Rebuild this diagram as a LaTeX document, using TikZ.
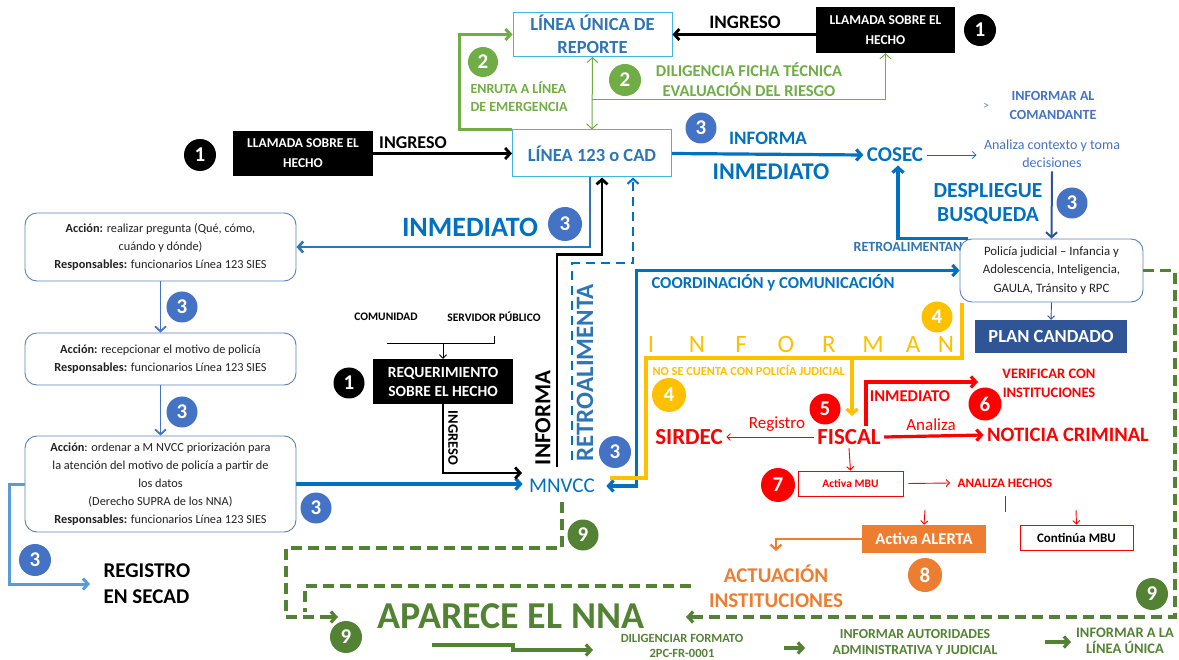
\documentclass[tikz,border=0pt]{standalone}
\usepackage{fontspec}
\setmainfont{Carlito}
\usetikzlibrary{arrows.meta,calc}
\definecolor{lublue}{HTML}{41B6E6}
\definecolor{tblue}{HTML}{2E75B6}
\definecolor{ablue}{HTML}{0070C0}
\definecolor{cblue}{HTML}{4472C4}
\definecolor{rbord}{HTML}{5B82B8}
\definecolor{gA}{HTML}{70AD47}
\definecolor{gB}{HTML}{548235}
\definecolor{yel}{HTML}{FFC000}
\definecolor{rd}{HTML}{FF0000}
\definecolor{org}{HTML}{ED7D31}
\definecolor{navy}{HTML}{2F5597}
\definecolor{lb}{HTML}{5B9BD5}
\definecolor{txt}{HTML}{222222}
\newcommand{\myfs}[2]{\fontsize{#1}{#2}\selectfont}
\begin{document}
\begin{tikzpicture}[x=1pt,y=-1pt,
  numc/.style={circle,inner sep=0pt,minimum size=31pt,text=white,font=\bfseries\myfs{21}{21}},
  tipA/.style={-{Straight Barb[length=5pt,width=11pt]}},
  tipB/.style={{Straight Barb[length=5pt,width=11pt]}-{Straight Barb[length=5pt,width=11pt]}},
  tipS/.style={-{Straight Barb[length=3.5pt,width=7pt]}},
  lubox/.style={draw=lublue,line width=1pt,fill=white,minimum width=159pt,minimum height=44pt,inner sep=0pt,align=center,text=tblue,font=\bfseries\myfs{18.5}{23}},
  blkbox/.style={fill=black,minimum width=140pt,minimum height=45pt,inner sep=0pt,align=center,text=white,font=\bfseries\myfs{13.5}{20}},
  rbox/.style={draw=rbord,line width=0.9pt,rounded corners=12pt,fill=white,minimum width=271pt,inner sep=0pt,align=center,text=txt,font=\myfs{12.3}{18}},
  rdbox/.style={draw=rd,line width=0.8pt,fill=white,inner sep=0pt,align=center,font=\bfseries\myfs{12}{14}},
  gdash/.style={draw=gB,line width=3.4pt,dash pattern=on 11pt off 6pt}
]
\useasboundingbox (0,0) rectangle (1179,660);

% ---------- top area ----------
\node[lubox] (lu) at (592.5,34.5) {LÍNEA ÚNICA DE\\REPORTE};
\node[lubox,minimum height=47pt] (c123) at (592,153.5) {LÍNEA 123 o CAD};
\node[blkbox,minimum width=139pt,minimum height=46pt] (ll1) at (885.5,30) {LLAMADA SOBRE EL\\HECHO};
\node[blkbox] (ll2) at (303,153.5) {LLAMADA SOBRE EL\\HECHO};
\node[numc,fill=black,minimum size=32pt] (n1a) at (980,30) {1};
\node[numc,fill=black,minimum size=32pt] (n1b) at (200,155) {1};

\draw[tipA,line width=2.8pt] (ll1.west |- lu.east) -- (lu.east);
\node[font=\bfseries\myfs{19}{19}] (ingT) at (745,22) {INGRESO};
\draw[tipA,line width=2.8pt] (ll2.east) -- (c123.west);
\node[font=\bfseries\myfs{18}{18}] (ingL) at (413,143) {INGRESO};

% green routes
\draw[gA,line width=3pt,tipA] (c123.north west) -- ++(-53,0) |- (lu.west);
\node[numc,fill=gA,minimum size=30pt] (n2a) at (483,62) {2};
\node[anchor=west,align=left,text=gA,font=\bfseries\myfs{14}{18}] (enruta) at (467,97) {ENRUTA A LÍNEA\\DE EMERGENCIA};
\draw[gA,line width=1pt,tipB] (lu.south) -- (c123.north);
\coordinate (gsplit) at (592,100);
\draw[gA,line width=1pt,tipA] (gsplit) -| (ll1.south);
\node[numc,fill=gA,minimum size=32pt] (n2b) at (625,80) {2};
\node[align=center,text=gA,font=\bfseries\myfs{16.5}{20}] (dilT) at (749,80) {DILIGENCIA FICHA TÉCNICA\\EVALUACIÓN DEL RIESGO};

% to COSEC
\node[text=ablue,font=\bfseries\myfs{21}{21}] (cosec) at (895,155) {COSEC};
\draw[ablue,line width=3.2pt,tipA] (c123.east) -- (cosec.west);
\node[numc,fill=cblue,minimum size=31pt] (n3a) at (701,128) {3};
\node[text=ablue,font=\bfseries\myfs{19}{19}] (infT) at (768,138) {INFORMA};
\node[text=ablue,font=\bfseries\myfs{24}{24}] (inmT) at (771,172) {INMEDIATO};
\node[text=cblue!80,font=\myfs{12}{12}] (gt) at (986,106) {>};
\node[align=center,text=cblue,font=\bfseries\myfs{14}{19}] (coman) at (1053,105) {INFORMAR AL\\COMANDANTE};
\node[align=center,text=cblue,font=\myfs{14}{18}] (anal) at (1052,154) {Analiza contexto y toma\\decisiones};
\draw[ablue,line width=0.8pt,tipS] (cosec.east) -- ([xshift=-4pt]anal.west |- cosec.east);

% Policia box
\node[text=tblue,font=\bfseries\myfs{14}{14}] (retT) at (908,247) {RETROALIMENTAN};
\node[rbox,minimum width=183pt,minimum height=63pt,font=\myfs{12.8}{18.5}] (pol) at (1051.5,270.5) {Policía judicial – Infancia y\\Adolescencia, Inteligencia,\\GAULA, Tránsito y RPC};
\draw[navy,line width=2pt,tipA] (anal.south) -- (pol.north);
\node[numc,fill=cblue,minimum size=31pt] (n3b) at (1072,203) {3};
\node[align=center,text=ablue,font=\bfseries\myfs{21.5}{24}] (desp) at (988,204) {DESPLIEGUE\\BUSQUEDA};
\draw[ablue,line width=3.2pt,tipA] ([xshift=8pt]pol.north west) -| ([xshift=3pt]cosec.south);
\node[fill=navy,minimum width=152pt,minimum height=33pt,inner sep=0pt,text=white,font=\bfseries\myfs{18.5}{18.5}] (plan) at (1051,336.5) {PLAN CANDADO};
\draw[navy,line width=0.9pt,tipS] (pol.south) -- (plan.north);

% ---------- left column ----------
\node[rbox,minimum height=68pt] (bA) at (160.5,247) {\textbf{Acción:} realizar pregunta (Qué, cómo,\\cuándo y dónde)\\\textbf{Responsables:} funcionarios Línea 123 SIES};
\node[rbox,minimum height=52pt] (bB) at (160.5,359) {\textbf{Acción:} recepcionar el motivo de policía\\\textbf{Responsables:} funcionarios Línea 123 SIES};
\node[rbox,minimum height=96pt] (bC) at (160.5,484) {\textbf{Acción}: ordenar a M NVCC priorización para\\la atención del motivo de policía a partir de\\los datos\\(Derecho SUPRA de los NNA)\\\textbf{Responsables:} funcionarios Línea 123 SIES};
\draw[tblue,line width=2.6pt,tipA] ([xshift=-2pt]c123.south) |- (bA.east);
\node[text=ablue,font=\bfseries\myfs{28}{28}] (inmA) at (470,227) {INMEDIATO};
\node[numc,fill=cblue,minimum size=34pt] (n3c) at (565,224) {3};
\draw[cblue,line width=1.8pt,tipA] (bA.south) -- (bB.north);
\node[numc,fill=cblue,minimum size=31pt] (n3d) at (182,307) {3};
\draw[cblue,line width=1.8pt,tipA] (bB.south) -- (bC.north);
\node[numc,fill=cblue,minimum size=31pt] (n3e) at (182,412) {3};
\node[numc,fill=cblue,minimum size=31pt] (n3f) at (316,508) {3};
\node[anchor=west,align=left,font=\bfseries\myfs{21}{26}] (reg) at (100,584) {REGISTRO\\EN SECAD};
\draw[lb,line width=3pt,tipA] (bC.west) -- ++(-15,0) |- ([xshift=-10pt]reg.west);
\node[numc,fill=cblue,minimum size=32pt] (n3g) at (35,560) {3};

% ---------- requerimiento ----------
\node[font=\bfseries\myfs{11.5}{11.5}] (comu) at (386,317) {COMUNIDAD};
\node[font=\bfseries\myfs{11.5}{11.5}] (serv) at (494,317) {SERVIDOR PÚBLICO};
\node[blkbox,font=\bfseries\myfs{15.5}{19}] (req) at (443,381.5) {REQUERIMIENTO\\SOBRE EL HECHO};
\node[numc,fill=black,minimum size=31pt] (n1c) at (349,383) {1};
\coordinate (cmL) at (387,343);
\draw[line width=0.9pt] ([yshift=-11pt]serv.south) |- (cmL);
\coordinate (jn) at (443,343);
\draw[line width=0.9pt,tipS] (jn) -- (req.north);
\node[text=ablue,font=\myfs{21}{21}] (mnvcc) at (562,486) {MNVCC};
\draw[ablue,line width=3.2pt,tipA] (bC.east) -- ([xshift=-3pt]mnvcc.west |- bC.east);
\coordinate (ingE) at (522,473);
\draw[line width=2.8pt,tipA] (req.south) |- (ingE);
\node[rotate=-90,font=\bfseries\myfs{14.5}{14.5}] (ingV) at (453,438) {INGRESO};

% INFORMA / RETROALIMENTA
\coordinate (infS) at (557,467);
\draw[line width=2.8pt,tipA] (infS) |- ([xshift=10pt,yshift=-77pt]c123.south) -- ([xshift=10pt]c123.south);
\node[rotate=90,font=\bfseries\myfs{23}{23}] (infV) at (543,418) {INFORMA};
\coordinate (rtS) at (572,460);
\draw[ablue,line width=2pt,dash pattern=on 9pt off 6pt,tipA] (rtS) |- ([xshift=41pt,yshift=-86pt]c123.south) -- ([xshift=41pt]c123.south);
\node[rotate=90,text=tblue,font=\bfseries\myfs{25}{25}] (retV) at (585,373) {RETROALIMENTA};
\node[numc,fill=cblue,minimum size=32pt] (n3h) at (615,452) {3};

% coordinacion
\draw[ablue,line width=3.2pt,tipB] ([xshift=8pt]mnvcc.east) -| ([xshift=-323pt]pol.west) -- (pol.west);
\node[text=ablue,font=\bfseries\myfs{16.7}{16.7}] (coord) at (773,283) {COORDINACIÓN y COMUNICACIÓN};

% INFORMAN yellow
\draw[yel,line width=3.2pt] (962,303) -- (962,358) -- (646,358) -- (646,478) -- (610,478);
\draw[yel,line width=3.2pt,tipA] (852,358) -- (852,416);
\foreach \xx/\ll [count=\i] in {651/I,697/N,741/F,786/O,829/R,873/M,913/A,946/N}
  \node[text=yel,font=\myfs{25}{25}] (inf\i) at (\xx,344) {\ll};
\node[numc,fill=yel,minimum size=31pt] (n4a) at (937,317) {4};
\node[anchor=west,text=yel,font=\bfseries\myfs{12.3}{12.3}] (nose) at (649,370) {NO SE CUENTA CON POLICÍA JUDICIAL};
\node[numc,fill=yel,minimum size=34pt] (n4b) at (669,395) {4};

% red part
\node[text=rd,font=\bfseries\myfs{23}{23}] (fiscal) at (849,437) {FISCAL};
\node[text=rd,font=\bfseries\myfs{23}{23}] (sirdec) at (689,437) {SIRDEC};
\draw[rd,line width=0.9pt,tipS] (fiscal.west) -- (sirdec.east);
\node[text=rd,font=\myfs{17}{17}] (regT) at (777,424) {Registro};
\node[numc,fill=rd,minimum size=31pt] (n5) at (825,409) {5};
\coordinate (vtip) at (978,382);
\draw[rd,line width=3.2pt,tipA] ([xshift=17pt]fiscal.north) |- (vtip);
\node[text=rd,font=\bfseries\myfs{16.5}{16.5}] (inmR) at (910,396) {INMEDIATO};
\node[numc,fill=rd,minimum size=33pt] (n6) at (985,404) {6};
\node[align=center,text=rd,font=\bfseries\myfs{14.5}{19}] (verif) at (1049,383) {VERIFICAR CON\\INSTITUCIONES};
\node[text=rd,font=\bfseries\myfs{20.5}{20.5}] (noticia) at (1068,435) {NOTICIA CRIMINAL};
\draw[rd,line width=3.2pt,tipA] (fiscal.east) -- (noticia.west);
\node[text=rd,font=\myfs{17}{17}] (analT) at (931,425) {Analiza};
\node[rdbox,minimum width=105pt,minimum height=25pt,text=rd,font=\bfseries\myfs{11.5}{11.5}] (mbu) at (850.5,483.5) {Activa MBU};
\draw[rd,line width=0.9pt,tipS] (fiscal.south) -- (mbu.north);
\node[numc,fill=rd,minimum size=34pt] (n7) at (778,485) {7};
\node[text=rd,font=\bfseries\myfs{13}{13}] (anh) at (1005,483) {ANALIZA HECHOS};
\draw[rd,line width=0.9pt,tipS] ([xshift=5pt]mbu.east) -- ([xshift=-4pt]anh.west);
\draw[rd,line width=0.9pt] (1005,496) -- (1005,512);
\node[fill=org,minimum width=124pt,minimum height=28pt,inner sep=0pt,text=white,font=\bfseries\myfs{16.5}{16.5}] (alerta) at (924,539) {Activa ALERTA};
\node[rdbox,minimum width=113pt,minimum height=25pt,text=black,font=\bfseries\myfs{13}{13}] (cont) at (1076.5,537.5) {Continúa MBU};
\coordinate (aA) at (925,510);
\coordinate (aB) at (1076,510);
\draw[rd,line width=0.9pt,tipS] (aA) -- (alerta.north);
\draw[rd,line width=0.9pt,tipS] (aB) -- (cont.north);
\node[align=center,text=org,font=\bfseries\myfs{21}{25}] (act) at (776,586) {ACTUACIÓN\\INSTITUCIONES};
\draw[org,line width=2.2pt,tipA] (alerta.west) -| ([yshift=10pt]act.north);
\node[numc,fill=org,minimum size=34pt] (n8) at (925,575) {8};

% ---------- green bottom ----------
\node[inner sep=0pt,text=gB,font=\bfseries\myfs{38}{38}] (apar) at (511,616) {APARECE EL NNA};
\coordinate (apE) at (686,617);
\draw[gdash] (pol.east) -- (1175,270.5) -- (1175,617) -- ([xshift=14pt]apE);
\draw[gB,line width=3.2pt,tipA] ([xshift=14pt]apE) -- (apE);
\coordinate (apW) at (338,617);
\draw[gdash] ([yshift=-6pt]mnvcc.south) |- (286,548) -- (286,617) -- ([xshift=-16pt]apW);
\draw[gB,line width=3.2pt,tipA] ([xshift=-16pt]apW) -- (apW);
\draw[gdash] (691,586) -- (305,586) -- (305,612);
\node[numc,fill=gB,minimum size=31pt] (n9a) at (583,535) {9};
\node[numc,fill=gB,minimum size=32pt] (n9b) at (346,637) {9};
\node[numc,fill=gB,minimum size=32pt] (n9c) at (1152,594) {9};
\node[inner sep=1pt,align=center,text=gB,font=\bfseries\myfs{12.5}{15.5}] (dilg) at (682,646) {DILIGENCIAR FORMATO\\2PC-FR-0001};
\coordinate (gs) at (432,645);
\coordinate (ge) at (593,650);
\draw[gB,line width=3.2pt,tipA] (gs) -- (513,645) -- (513,650) -- (ge);
\node[align=center,text=gB,font=\bfseries\myfs{13.8}{16}] (iaut) at (915,642) {INFORMAR AUTORIDADES\\ADMINISTRATIVA Y JUDICIAL};
\coordinate (g1a) at (784,648);
\coordinate (g1b) at (805,648);
\draw[gB,line width=3.2pt,tipA] (g1a) -- (g1b);
\node[align=center,text=gB,font=\bfseries\myfs{14.5}{16.5}] (ilu) at (1125,641) {INFORMAR A LA\\LÍNEA ÚNICA};
\coordinate (g2a) at (1045,642);
\coordinate (g2b) at (1071,642);
\draw[gB,line width=3.2pt,tipA] (g2a) -- (g2b);
\end{tikzpicture}
\end{document}
